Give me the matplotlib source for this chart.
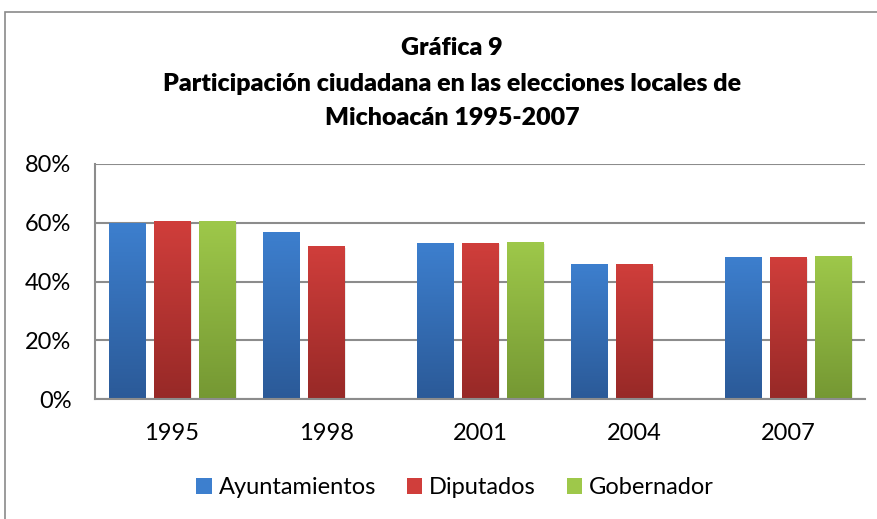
import matplotlib.pyplot as plt
import numpy as np
from matplotlib.colors import LinearSegmentedColormap
from matplotlib.patches import Patch, Rectangle

plt.rcParams['font.family'] = ['Lato', 'DejaVu Sans']

# datos
years = ['1995', '1998', '2001', '2004', '2007']
ayuntamientos = [60.0, 56.9, 53.2, 46.0, 48.3]
diputados = [60.6, 52.2, 53.3, 46.0, 48.3]
gobernador = [60.6, np.nan, 53.4, np.nan, 48.7]

series = [
    ('Ayuntamientos', ayuntamientos, '#3d7fce', '#2b5a98'),
    ('Diputados', diputados, '#d03e3b', '#972927'),
    ('Gobernador', gobernador, '#9ec84a', '#759833'),
]

fig = plt.figure(figsize=(8.77, 5.19), dpi=100)
# borde del area del grafico
fig.patches.append(Rectangle((5 / 877, -0.1), 1.1, 1 - 12 / 519 + 0.1,
                             transform=fig.transFigure, fill=False,
                             edgecolor='#8a8a8a', linewidth=1.2))

ax = fig.add_axes([95 / 877, 1 - 399.3 / 519, 770 / 877, 235.3 / 519])

x = np.arange(len(years))
w = 0.234
step = 0.295

for i, (name, vals, top, bottom) in enumerate(series):
    cmap = LinearSegmentedColormap.from_list(name, [bottom, top])
    grad = np.linspace(0, 1, 100).reshape(-1, 1)
    for xi, v in zip(x + (i - 1) * step, vals):
        if np.isnan(v):
            continue
        # sombra suave
        ax.bar(xi + 0.012, v, w, bottom=-0.6, color='#000000', alpha=0.08,
               zorder=2, linewidth=0)
        b = ax.bar(xi, v, w, color='none', zorder=3, linewidth=0)[0]
        im = ax.imshow(grad, extent=[xi - w / 2, xi + w / 2, 0, v],
                       origin='lower', aspect='auto', cmap=cmap, zorder=3)
        im.set_clip_path(b)

ax.set_xlim(-0.5, 4.5)
ax.set_ylim(0, 80)
ax.set_yticks([0, 20, 40, 60, 80])
ax.set_yticklabels(['0%', '20%', '40%', '60%', '80%'])
ax.set_xticks(x)
ax.set_xticklabels(years)
ax.tick_params(axis='both', length=0, labelsize=17, colors='black')
ax.tick_params(axis='x', pad=17)
ax.tick_params(axis='y', pad=17)
ax.grid(axis='y', color='#8c8c8c', linewidth=1.5, zorder=1)
ax.set_axisbelow(True)
for s in ['top', 'right']:
    ax.spines[s].set_visible(False)
ax.spines['left'].set_color('#8c8c8c')
ax.spines['left'].set_linewidth(1.5)
ax.spines['bottom'].set_color('#8c8c8c')
ax.spines['bottom'].set_linewidth(1.5)
ax.spines['bottom'].set_zorder(4)

title_kw = dict(ha='center', va='center', fontsize=18, fontweight='heavy')
fig.text(452 / 877, 1 - 48 / 519, 'Gráfica 9', **title_kw)
fig.text(452 / 877, 1 - 84 / 519,
         'Participación ciudadana en las elecciones locales de', **title_kw)
fig.text(452 / 877, 1 - 118 / 519, 'Michoacán 1995-2007', **title_kw)

handles = [Patch(facecolor=s[2], edgecolor='none', label=s[0]) for s in series]
fig.legend(handles=handles, loc='center', ncol=3,
           bbox_to_anchor=(455 / 877, 1 - 488 / 519), frameon=False,
           fontsize=17, handlelength=0.65, handleheight=0.65,
           handletextpad=0.3, columnspacing=1.3)

fig.savefig('out.png', dpi=100)
